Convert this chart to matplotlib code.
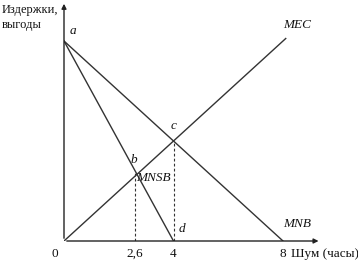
import numpy as np
import matplotlib.pyplot as plt

plt.rcParams['font.family'] = ['Liberation Serif', 'DejaVu Serif']

# values
a_val = 10.0          # intercept of MNB and MNSB
mnb_end = 8.0         # MNB hits x axis
mnsb_end = 4.0        # MNSB hits x axis (point d)
x_opt = 4.0           # point c
x_soc = 2.6           # point b
mec_xmax = 8.1
tick_vals = [2.6, 4, 8]
tick_txt = ['2,6', '4', '8']

fig = plt.figure(figsize=(3.58, 2.60), dpi=100)
ax = fig.add_axes([64/358, 19/260, 273.75/358, 240/260])
ax.set_xlim(0, 10)
ax.set_ylim(0, 12)
ax.axis('off')

# axes with arrows
ax.annotate('', xy=(9.4, 0), xytext=(0, 0),
            arrowprops=dict(arrowstyle='-|>', lw=1.0, color='#222222', mutation_scale=7))
ax.annotate('', xy=(0, 12), xytext=(0, 0),
            arrowprops=dict(arrowstyle='-|>', lw=1.0, color='#222222', mutation_scale=7))

c_y = a_val * (1 - x_opt / mnb_end)
mec_slope = c_y / x_opt

lc = '#333333'
ax.plot([0, mnb_end], [a_val, 0], color=lc, lw=1.0)
ax.plot([0, mnsb_end], [a_val, 0], color=lc, lw=1.0)
ax.plot([0, mec_xmax], [0, mec_slope * mec_xmax], color=lc, lw=1.0)

b_y = a_val * (1 - x_soc / mnsb_end)
ax.plot([x_soc, x_soc], [0, b_y], color=lc, lw=0.8, ls=(0, (2.5, 2)))
ax.plot([x_opt, x_opt], [0, c_y], color=lc, lw=0.8, ls=(0, (2.5, 2)))

fs = 9.5
it = dict(fontsize=fs, style='italic', color='#111111')
ax.text(0.2, a_val + 0.2, 'a', ha='left', va='bottom', **it)
ax.text(x_opt, c_y + 0.45, 'c', ha='center', va='bottom', **it)
ax.text(x_soc - 0.05, b_y + 0.25, 'b', ha='center', va='bottom', **it)
ax.text(x_soc + 0.05, b_y - 0.35, 'MNSB', ha='left', va='center', **it)
ax.text(mnsb_end + 0.2, 0.3, 'd', ha='left', va='bottom', **it)
ax.text(8.0, mec_slope * mec_xmax + 0.4, 'MEC', ha='left', va='bottom', **it)
ax.text(8.0, 0.55, 'MNB', ha='left', va='bottom', **it)

for v, t in zip(tick_vals, tick_txt):
    ax.text(v, -0.35, t, ha='center', va='top', fontsize=fs, color='#111111')
ax.text(8.3, -0.35, 'Шум (часы)', ha='left', va='top', fontsize=fs, color='#111111')
ax.text(-0.2, -0.35, '0', ha='right', va='top', fontsize=fs, color='#111111')

fig.text(2/358, 1 - 4/260, 'Издержки,\nвыгоды', ha='left', va='top',
         fontsize=9, color='#111111', linespacing=1.3)

fig.savefig('out.png', dpi=100)
